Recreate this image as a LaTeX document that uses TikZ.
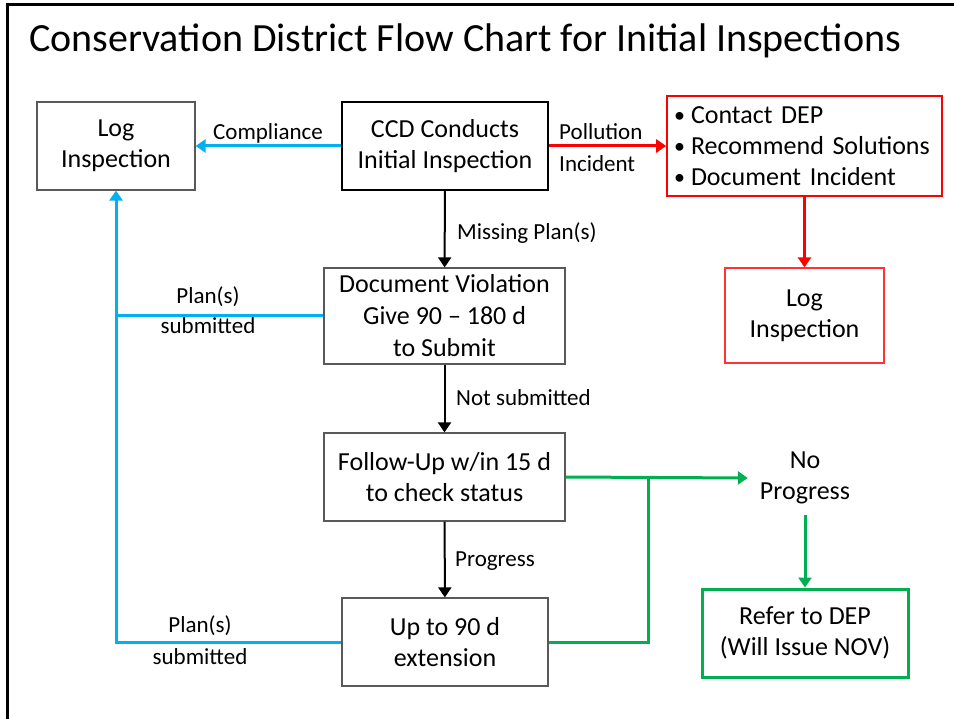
\documentclass[tikz,border=0pt]{standalone}
\usepackage{fontspec}
\setmainfont{Carlito}
\usetikzlibrary{arrows.meta}
\usetikzlibrary{positioning}
\definecolor{flowblue}{HTML}{00B0F0}
\definecolor{flowred}{HTML}{FF0000}
\definecolor{flowgreen}{HTML}{00B050}
\definecolor{boxgray}{HTML}{595959}
\newcommand{\bulletitem}{\makebox[17pt][l]{\raisebox{1pt}{\fontsize{22}{22}\selectfont\textbullet}}}
\tikzset{
every node/.style={ % Body text of the chart
font=\fontsize{26}{31}\selectfont,
align=center,
inner sep=0pt},
box/.style={ % Plain boxes
draw=boxgray,
line width=1.2pt},
lbl/.style={ % Labels on the connectors
font=\fontsize{23}{31}\selectfont},
flow/.style={ % Arrows with filled heads
-{Triangle[length=10pt,width=13pt]},
line width=2pt}}

\begin{document}
\begin{tikzpicture}[x=1pt,y=-1pt]
\useasboundingbox (0,0) rectangle (954,719);
\draw[line width=3.5pt] (7.5,719) -- (7.5,4.5) -- (954,4.5);
\node[anchor=west, font=\fontsize{40}{48}\selectfont] (title) at (29,41) {Conservation District Flow Chart for Initial Inspections};

% boxes
\node[box, minimum width=158pt, minimum height=88pt] (logL) at (116,146) {Log\\Inspection};
\node[box, draw=black, line width=2.5pt, minimum width=206pt, minimum height=88pt] (ccd) at (445,146) {CCD Conducts\\Initial Inspection};
\node[box, draw=flowred, line width=1.6pt, minimum height=100pt, inner xsep=7pt, align=left, text width=261pt] (acts) at (804.5,146)
  {\bulletitem Contact DEP\\\bulletitem Recommend Solutions\\\bulletitem Document Incident};
\node[box, draw=flowred!80, minimum width=159pt, minimum height=95pt] (logR) at (804.5,315.5) {Log\\Inspection};
\node[box, minimum width=241pt, minimum height=96pt, font=\fontsize{26}{32}\selectfont] (doc) at (444.5,316) {Document Violation\\Give 90 -- 180 d\\to Submit};
\node[box, minimum width=241pt, minimum height=88pt] (fu) at (444.5,477) {Follow-Up w/in 15 d\\to check status};
\node[box, minimum width=206pt, minimum height=88pt] (ext) at (445,642) {Up to 90 d\\extension};
\node[minimum width=114pt, minimum height=74pt] (nop) at (805,478) {No\\Progress};
\node[box, draw=flowgreen, line width=3pt, minimum width=206pt, minimum height=88pt] (ref) at (805,633) {Refer to DEP\\(Will Issue NOV)};

% black arrows
\draw[flow] (ccd) -- (doc);
\draw[flow] (doc) -- (fu);
\draw[flow] (fu) -- (ext);
\node[lbl, anchor=west] (missing) at (457,233) {Missing Plan(s)};
\node[lbl, anchor=west] (notsub) at (456,398) {Not submitted};
\node[lbl, anchor=west] (prog) at (455,561) {Progress};

% blue arrows
\draw[flow, flowblue, line width=3pt] (ccd) -- (logL);
\draw[flowblue, line width=3pt] (doc.west) -- (doc.west -| logL.south);
\draw[flow, flowblue, line width=3pt] (ext.west) -- (ext.west -| logL.south) -- (logL.south);
\node[lbl] (compl) at (268,133) {Compliance};
\node[lbl, font=\fontsize{23}{30}\selectfont] (subA) at (208,310) {Plan(s)\\submitted};
\node[lbl, font=\fontsize{23}{32}\selectfont] (subB) at (200,640) {Plan(s)\\submitted};

% red arrows
\draw[flow, flowred, line width=3pt] (ccd) -- (acts);
\draw[flow, flowred, line width=3pt] (acts.south -| logR) -- (logR);
\node[lbl, anchor=west, align=left, font=\fontsize{23}{32}\selectfont] (poll) at (559,148) {Pollution\\Incident};

% green arrows
\coordinate (gjoin) at (648,478);
\draw[flow, flowgreen, line width=3pt] (fu.east) -- (nop.west);
\draw[flowgreen, line width=3pt] (ext.east) -- (ext.east -| gjoin) -- (gjoin);
\draw[flow, flowgreen, line width=3pt] (nop) -- (ref);
\end{tikzpicture}
\end{document}
